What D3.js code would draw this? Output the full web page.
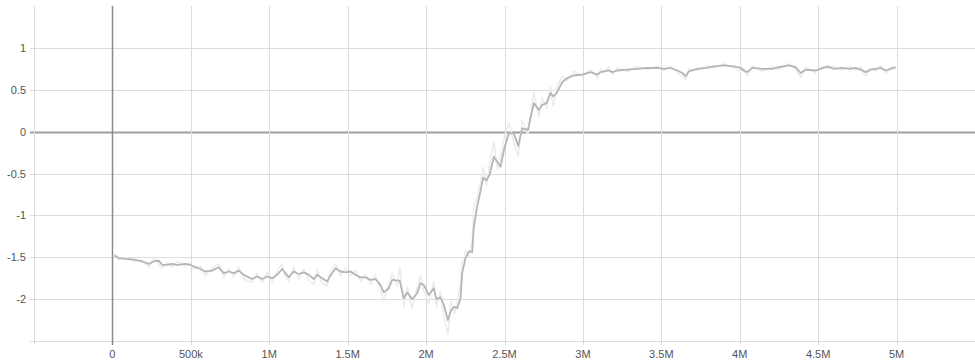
<!DOCTYPE html>
<html>
<head>
<meta charset="utf-8">
<script src="https://cdn.jsdelivr.net/npm/d3@7"></script>
<style>
  body { margin: 0; background: #fff; }
  .tick-label { font-family: "Liberation Sans", Arial, sans-serif; font-size: 11px; fill: #555; }
</style>
</head>
<body>
<div id="chart"></div>
<script>
// Training steps (in thousands), smoothed and raw values
const STEPS_K = [
  13,40,83,147,189,232,263,295,317,349,381,415,466,497,519,561,593,636,678,710,742,774,806,837,891,923,955,987,1019,1050,1082,
  1103,1124,1156,1188,1220,1252,1284,1306,1337,1369,1390,1422,1454,1486,1518,1550,1582,1614,1646,1677,1709,1730,1762,1784,1816,1832,1858,1880,1911,1943,1964,1985,2017,2049,2066,2092,2113,2139,2160,2181,2198,2220,
  2230,2251,2273,2294,2304,2326,2347,2364,2385,2406,2432,2454,2475,2500,2528,2559,2588,2613,2649,2687,2719,2741,2768,2794,2811,2832,2868,2900,2942,2996,3049,3092,3112,
  3134,3165,3187,3219,3283,3347,3410,3474,3516,3559,3602,3634,3655,3676,3729,3793,3835,3899,3963,4006,
  4016,4048,4080,4144,4208,4250,4313,4356,4388,4420,4484,4516,4558,4601,4654,4707,4739,4771,4803,4835,4867,4899,4931,4963,4994
];

const SMOOTHED = [
  -1.48,-1.51,-1.52,-1.53,-1.55,-1.58,-1.55,-1.54,-1.59,-1.59,-1.58,-1.59,-1.58,-1.59,-1.61,-1.64,-1.67,-1.66,-1.62,-1.69,-1.67,-1.69,-1.66,-1.71,-1.76,-1.73,-1.76,-1.73,-1.75,-1.71,-1.64,
  -1.69,-1.74,-1.67,-1.70,-1.68,-1.71,-1.76,-1.71,-1.75,-1.79,-1.72,-1.63,-1.67,-1.68,-1.67,-1.71,-1.74,-1.74,-1.77,-1.76,-1.83,-1.92,-1.87,-1.77,-1.78,-1.78,-1.99,-1.92,-2.00,-1.93,-1.81,-1.83,-1.95,-1.87,-2.00,-1.98,-2.07,-2.25,-2.13,-2.09,-2.11,-1.99,
  -1.69,-1.51,-1.43,-1.44,-1.15,-0.89,-0.71,-0.55,-0.58,-0.51,-0.30,-0.36,-0.42,-0.19,-0.02,-0.02,-0.17,0.04,0.02,0.34,0.26,0.32,0.34,0.46,0.42,0.46,0.59,0.64,0.67,0.68,0.71,0.68,0.71,
  0.72,0.73,0.71,0.73,0.74,0.75,0.76,0.76,0.75,0.76,0.73,0.70,0.66,0.72,0.75,0.76,0.78,0.79,0.78,0.76,
  0.74,0.71,0.76,0.75,0.75,0.77,0.79,0.77,0.70,0.74,0.73,0.75,0.78,0.75,0.76,0.75,0.76,0.74,0.71,0.74,0.75,0.76,0.73,0.75,0.77
];

const RAW = [
  -1.45,-1.53,-1.50,-1.55,-1.53,-1.62,-1.50,-1.58,-1.63,-1.56,-1.62,-1.55,-1.61,-1.57,-1.64,-1.61,-1.72,-1.63,-1.58,-1.74,-1.64,-1.73,-1.62,-1.76,-1.80,-1.69,-1.80,-1.68,-1.79,-1.66,-1.58,
  -1.74,-1.79,-1.62,-1.76,-1.64,-1.78,-1.82,-1.66,-1.81,-1.84,-1.66,-1.58,-1.72,-1.63,-1.72,-1.66,-1.79,-1.70,-1.82,-1.71,-1.90,-2.02,-1.80,-1.70,-1.84,-1.62,-2.10,-1.85,-2.12,-1.86,-1.72,-1.90,-2.05,-1.78,-2.10,-1.90,-2.20,-2.42,-2.02,-2.18,-2.04,-1.80,
  -1.55,-1.42,-1.50,-1.30,-0.90,-0.78,-0.60,-0.42,-0.65,-0.38,-0.12,-0.45,-0.30,-0.05,0.10,-0.12,-0.30,0.14,-0.04,0.48,0.17,0.40,0.28,0.54,0.30,0.52,0.66,0.61,0.72,0.66,0.74,0.64,0.75,
  0.70,0.77,0.68,0.76,0.72,0.78,0.74,0.78,0.73,0.78,0.70,0.66,0.62,0.75,0.73,0.79,0.76,0.81,0.76,0.72,
  0.77,0.66,0.79,0.72,0.78,0.74,0.81,0.74,0.65,0.77,0.70,0.78,0.75,0.78,0.73,0.78,0.73,0.77,0.66,0.76,0.72,0.79,0.70,0.77,0.74
];

// Axis ticks
const X_TICKS = [-500000, 0, 500000, 1000000, 1500000, 2000000, 2500000, 3000000, 3500000, 4000000, 4500000, 5000000];
const Y_TICKS = [-2.5, -2, -1.5, -1, -0.5, 0, 0.5, 1];

// Frame dimensions
const FRAME_WIDTH = 975;
const FRAME_HEIGHT = 363;
const MARGINS = {left: 34, right: 0, top: 6, bottom: 22};

const FRAME = d3.select("#chart")
                .append("svg")
                  .attr("width", FRAME_WIDTH)
                  .attr("height", FRAME_HEIGHT);

const X_SCALE = d3.scaleLinear()
                  .domain([-500000, 5500000])
                  .range([MARGINS.left, FRAME_WIDTH - MARGINS.right]);

const Y_SCALE = d3.scaleLinear()
                  .domain([-2.5, 1.5])
                  .range([FRAME_HEIGHT - MARGINS.bottom, MARGINS.top]);

const BOTTOM = FRAME_HEIGHT - MARGINS.bottom;

// Horizontal grid lines (with small outer ticks on the left)
FRAME.append("g")
  .selectAll("line")
  .data(Y_TICKS)
  .enter()
  .append("line")
    .attr("x1", MARGINS.left - 4)
    .attr("x2", FRAME_WIDTH)
    .attr("y1", (d) => Math.round(Y_SCALE(d)) + 0.5)
    .attr("y2", (d) => Math.round(Y_SCALE(d)) + 0.5)
    .attr("stroke", (d) => d === 0 ? "#9e9e9e" : "#dcdcdc")
    .attr("stroke-width", (d) => d === 0 ? 2 : 1);

// Vertical grid lines (with small outer ticks at the bottom)
FRAME.append("g")
  .selectAll("line")
  .data(X_TICKS)
  .enter()
  .append("line")
    .attr("x1", (d) => Math.round(X_SCALE(d)) + 0.5)
    .attr("x2", (d) => Math.round(X_SCALE(d)) + 0.5)
    .attr("y1", MARGINS.top)
    .attr("y2", BOTTOM + 4)
    .attr("stroke", (d) => d === 0 ? "#8a8a8a" : "#dcdcdc")
    .attr("stroke-width", (d) => d === 0 ? 1.5 : 1);

// Y tick labels
FRAME.append("g")
  .selectAll("text")
  .data(Y_TICKS.filter((d) => d !== -2.5))
  .enter()
  .append("text")
    .attr("class", "tick-label")
    .attr("x", MARGINS.left - 8)
    .attr("y", (d) => Y_SCALE(d) + 4)
    .attr("text-anchor", "end")
    .text((d) => String(d));

// X tick labels
const X_FORMAT = d3.format("~s");
FRAME.append("g")
  .selectAll("text")
  .data(X_TICKS.filter((d) => d >= 0))
  .enter()
  .append("text")
    .attr("class", "tick-label")
    .attr("x", (d) => X_SCALE(d))
    .attr("y", BOTTOM + 17)
    .attr("text-anchor", "middle")
    .text((d) => X_FORMAT(d));

// Build the series
const LINE = d3.line()
  .x((d) => X_SCALE(d[0]))
  .y((d) => Y_SCALE(d[1]));

const RAW_DATA = STEPS_K.map((s, i) => [s * 1000, RAW[i]]);
const SMOOTH_DATA = STEPS_K.map((s, i) => [s * 1000, SMOOTHED[i]]);

// Faint raw line behind the smoothed one
FRAME.append("path")
  .datum(RAW_DATA)
  .attr("d", LINE)
  .attr("fill", "none")
  .attr("stroke", "#ececec")
  .attr("stroke-width", 1.5);

FRAME.append("path")
  .datum(SMOOTH_DATA)
  .attr("d", LINE)
  .attr("fill", "none")
  .attr("stroke", "#b5b5b5")
  .attr("stroke-width", 1.8)
  .attr("stroke-linejoin", "round");
</script>
</body>
</html>
